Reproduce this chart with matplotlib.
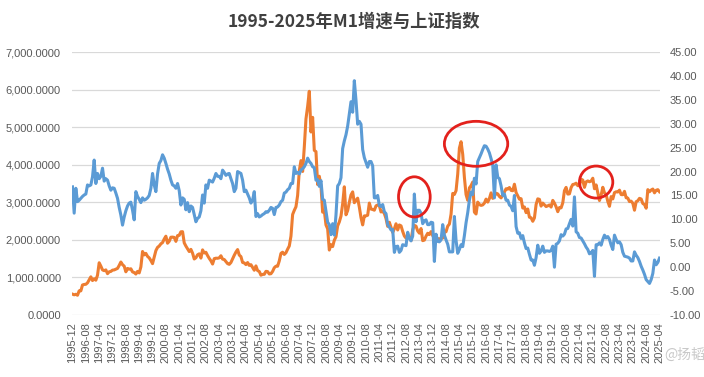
import numpy as np
import pandas as pd
import matplotlib
matplotlib.use("Agg")
import matplotlib.pyplot as plt
from matplotlib.patches import Ellipse
from matplotlib.ticker import FuncFormatter, MultipleLocator

plt.rcParams['font.family'] = ['Liberation Sans', 'Noto Sans CJK SC', 'DejaVu Sans']

# ---------------- data ----------------
months = pd.period_range('1995-12', '2025-04', freq='M').strftime('%Y-%m').tolist()

sse_1995 = [555]
sse_1996 = [537, 551, 526, 643, 643, 799, 813, 817, 856, 938, 1016, 917]
sse_1997 = [965, 926, 1060, 1390, 1300, 1200, 1180, 1200, 1100, 1150, 1160, 1194]
sse_1998 = [1200, 1220, 1240, 1320, 1410, 1340, 1300, 1150, 1240, 1220, 1230, 1147]
sse_1999 = [1130, 1090, 1160, 1120, 1280, 1690, 1600, 1640, 1560, 1520, 1450, 1367]
sse_2000 = [1535, 1714, 1800, 1836, 1894, 1928, 2023, 2097, 1910, 1962, 2070, 2073]
sse_2001 = [2065, 1960, 2113, 2120, 2214, 2218, 1920, 1834, 1763, 1689, 1747, 1646]
sse_2002 = [1491, 1524, 1603, 1628, 1515, 1733, 1650, 1670, 1581, 1507, 1442, 1357]
sse_2003 = [1500, 1512, 1510, 1521, 1577, 1487, 1477, 1421, 1367, 1348, 1397, 1497]
sse_2004 = [1590, 1675, 1742, 1595, 1555, 1399, 1386, 1342, 1396, 1320, 1340, 1266]
sse_2005 = [1191, 1306, 1181, 1159, 1060, 1080, 1083, 1162, 1155, 1092, 1099, 1161]
sse_2006 = [1258, 1299, 1298, 1440, 1641, 1672, 1612, 1658, 1752, 1837, 2099, 2675]
sse_2007 = [2786, 2881, 3183, 3841, 4109, 3820, 4471, 5218, 5552, 5954, 4871, 5261]
sse_2008 = [4383, 4348, 3472, 3693, 3433, 2736, 2775, 2397, 2293, 1729, 1871, 1821]
sse_2009 = [1991, 2082, 2373, 2477, 2633, 2959, 3412, 2667, 2779, 2996, 3195, 3277]
sse_2010 = [2989, 3051, 3110, 2871, 2592, 2398, 2638, 2639, 2656, 2979, 2820, 2808]
sse_2011 = [2790, 2905, 2928, 2911, 2743, 2762, 2701, 2567, 2359, 2468, 2333, 2199]
sse_2012 = [2292, 2428, 2263, 2396, 2373, 2225, 2103, 2047, 2086, 2069, 1980, 2269]
sse_2013 = [2385, 2365, 2237, 2178, 2301, 1979, 1994, 2098, 2175, 2141, 2220, 2116]
sse_2014 = [2033, 2056, 2033, 2026, 2039, 2048, 2202, 2217, 2364, 2420, 2683, 3235]
sse_2015 = [3210, 3310, 3748, 4442, 4612, 4277, 3664, 3206, 3053, 3383, 3445, 3539]
sse_2016 = [2738, 2688, 3004, 2938, 2917, 2930, 2979, 3085, 3005, 3100, 3250, 3104]
sse_2017 = [3159, 3242, 3223, 3155, 3117, 3192, 3273, 3361, 3349, 3393, 3317, 3307]
sse_2018 = [3481, 3259, 3169, 3082, 3095, 2847, 2876, 2725, 2821, 2603, 2588, 2494]
sse_2019 = [2585, 2941, 3091, 3078, 2899, 2979, 2933, 2886, 2905, 2929, 2872, 3050]
sse_2020 = [2977, 2880, 2750, 2860, 2852, 2985, 3310, 3396, 3218, 3225, 3392, 3473]
sse_2021 = [3483, 3509, 3442, 3447, 3615, 3591, 3397, 3544, 3568, 3547, 3564, 3640]
sse_2022 = [3361, 3462, 3252, 3047, 3187, 3399, 3253, 3202, 3024, 2893, 3151, 3089]
sse_2023 = [3256, 3280, 3273, 3323, 3205, 3202, 3291, 3120, 3110, 3018, 3030, 2975]
sse_2024 = [2789, 3015, 3041, 3105, 3087, 2967, 2939, 2842, 3336, 3280, 3326, 3352]
sse_2025 = [3251, 3320, 3336, 3279]

m1_1995 = [16.8]
m1_1996 = [11.3, 16.5, 13.7, 14.0, 14.4, 14.8, 15.1, 15.3, 17.2, 17.0, 17.2, 18.9]
m1_1997 = [22.4, 17.5, 19.6, 18.5, 19.0, 20.7, 18.0, 18.5, 18.2, 17.0, 16.1, 16.6]
m1_1998 = [16.5, 15.5, 14.4, 12.5, 10.9, 8.8, 10.5, 11.8, 12.8, 13.4, 13.6, 11.9]
m1_1999 = [9.9, 15.8, 14.8, 14.2, 13.5, 14.5, 14.0, 14.2, 14.5, 15.0, 16.5, 19.6]
m1_2000 = [17.2, 15.8, 19.5, 21.7, 22.3, 23.5, 22.8, 21.7, 20.5, 19.5, 18.2, 17.2]
m1_2001 = [17.0, 16.5, 17.5, 16.0, 13.0, 14.5, 14.2, 12.0, 13.5, 11.6, 12.8, 12.5]
m1_2002 = [11.0, 9.5, 10.2, 10.5, 11.8, 15.1, 13.4, 17.2, 16.5, 18.2, 18.0, 17.8]
m1_2003 = [18.6, 19.6, 19.0, 19.0, 18.5, 20.3, 19.8, 19.2, 19.5, 19.6, 18.5, 17.5]
m1_2004 = [15.8, 16.5, 20.0, 19.8, 19.6, 18.2, 15.8, 16.1, 15.3, 14.5, 13.4, 14.0]
m1_2005 = [15.8, 10.6, 11.2, 10.5, 10.7, 11.0, 11.2, 11.6, 11.5, 11.9, 12.5, 12.3]
m1_2006 = [11.0, 12.5, 12.6, 13.0, 13.7, 14.0, 15.5, 15.7, 16.2, 16.5, 17.5, 17.5]
m1_2007 = [21.0, 19.6, 19.8, 19.5, 20.3, 20.6, 21.0, 21.7, 22.8, 22.1, 21.7, 21.0]
m1_2008 = [20.8, 18.2, 18.3, 16.9, 18.1, 14.2, 14.0, 11.7, 9.4, 8.9, 6.8, 9.1]
m1_2009 = [6.7, 10.9, 17.0, 17.5, 18.7, 24.8, 26.4, 27.7, 29.5, 32.0, 34.6, 32.4]
m1_2010 = [39.0, 34.9, 29.9, 30.5, 29.9, 24.6, 22.9, 21.9, 20.9, 22.1, 22.1, 21.2]
m1_2011 = [14.5, 14.5, 15.0, 12.9, 12.7, 13.1, 11.6, 11.2, 8.9, 8.4, 7.8, 7.9]
m1_2012 = [3.1, 4.3, 4.4, 3.1, 3.5, 4.7, 4.6, 4.5, 7.3, 6.1, 5.5, 6.5]
m1_2013 = [15.3, 9.5, 11.9, 11.9, 11.3, 9.1, 9.7, 9.9, 8.9, 8.9, 9.4, 9.3]
m1_2014 = [1.2, 6.9, 5.4, 5.3, 5.7, 8.9, 6.7, 5.7, 4.8, 3.2, 3.2, 3.2]
m1_2015 = [10.6, 5.6, 2.9, 3.7, 4.7, 4.3, 6.6, 9.3, 11.4, 14.0, 15.7, 15.2]
m1_2016 = [18.6, 17.4, 22.1, 22.9, 23.7, 24.6, 25.4, 25.3, 24.7, 23.9, 22.7, 21.4]
m1_2017 = [14.5, 21.4, 18.8, 18.5, 17.0, 15.0, 15.3, 14.0, 14.0, 13.0, 12.7, 11.8]
m1_2018 = [15.0, 8.5, 7.1, 7.2, 6.0, 6.6, 5.1, 3.9, 4.0, 2.7, 1.5, 1.5]
m1_2019 = [0.4, 2.0, 4.6, 2.9, 3.4, 4.4, 3.1, 3.4, 3.4, 3.3, 3.5, 4.4]
m1_2020 = [0.0, 4.8, 5.0, 5.5, 6.8, 6.5, 6.9, 8.0, 8.1, 9.1, 10.0, 8.6]
m1_2021 = [14.7, 7.4, 7.1, 6.2, 6.1, 5.5, 4.9, 4.2, 3.7, 2.8, 3.0, 3.5]
m1_2022 = [-1.9, 4.7, 4.7, 5.1, 4.6, 5.8, 6.7, 6.1, 6.4, 5.8, 4.6, 3.7]
m1_2023 = [6.7, 5.8, 5.1, 5.3, 4.7, 3.1, 2.3, 2.2, 2.1, 1.9, 1.3, 1.3]
m1_2024 = [3.2, 2.5, 2.0, 1.2, 0.2, -0.6, -1.5, -2.6, -3.0, -3.4, -2.6, -1.3]
m1_2025 = [1.5, 0.5, 1.0, 1.9]

sse = (sse_1995 + sse_1996 + sse_1997 + sse_1998 + sse_1999 + sse_2000 + sse_2001 +
       sse_2002 + sse_2003 + sse_2004 + sse_2005 + sse_2006 + sse_2007 + sse_2008 +
       sse_2009 + sse_2010 + sse_2011 + sse_2012 + sse_2013 + sse_2014 + sse_2015 +
       sse_2016 + sse_2017 + sse_2018 + sse_2019 + sse_2020 + sse_2021 + sse_2022 +
       sse_2023 + sse_2024 + sse_2025)
m1 = (m1_1995 + m1_1996 + m1_1997 + m1_1998 + m1_1999 + m1_2000 + m1_2001 +
      m1_2002 + m1_2003 + m1_2004 + m1_2005 + m1_2006 + m1_2007 + m1_2008 +
      m1_2009 + m1_2010 + m1_2011 + m1_2012 + m1_2013 + m1_2014 + m1_2015 +
      m1_2016 + m1_2017 + m1_2018 + m1_2019 + m1_2020 + m1_2021 + m1_2022 +
      m1_2023 + m1_2024 + m1_2025)

# highlighted areas: (centre month, centre M1 value, width in months, height in pct points)
highlights = [('2013-01', 14.7, 19, 8.4),
              ('2016-02', 25.8, 38, 9.4),
              ('2022-02', 17.8, 20, 6.7)]

title = '1995-2025年M1增速与上证指数'

# ---------------- plot ----------------
fig = plt.figure(figsize=(7.04, 3.77), dpi=100)
ax = fig.add_axes([72 / 704, 1 - 315 / 377, (660 - 72) / 704, (315 - 52) / 377])
ax2 = ax.twinx()

x = np.arange(len(months))
blue = '#5B9BD5'
orange = '#ED7D31'
grey = '#595959'

ax.plot(x, sse, color=orange, lw=2.2, solid_joinstyle='round')
ax2.plot(x, m1, color=blue, lw=2.2, solid_joinstyle='round')

ax.set_xlim(-0.3, len(months) - 0.7)
ax.set_ylim(0, 7000)
ax.yaxis.set_major_locator(MultipleLocator(1000))
ax.yaxis.set_major_formatter(FuncFormatter(lambda v, p: f'{v:,.4f}'))
ax2.set_ylim(-10, 45)
ax2.yaxis.set_major_locator(MultipleLocator(5))
ax2.yaxis.set_major_formatter(FuncFormatter(lambda v, p: f'{v:.2f}'))

ax.grid(axis='y', color='#D9D9D9', lw=0.9)
ax.set_axisbelow(True)
ax.set_xticks(x[::8])
ax.set_xticklabels(months[::8], rotation=90)

for a in (ax, ax2):
    for s in a.spines.values():
        s.set_visible(False)
ax.tick_params(axis='x', length=0, pad=5, labelsize=8, labelcolor=grey)
ax.tick_params(axis='y', length=0, pad=8, labelsize=8, labelcolor=grey)
ax2.tick_params(axis='y', length=0, pad=7, labelsize=8, labelcolor=grey)

for m, v, w, h in highlights:
    e = Ellipse((months.index(m), v), w, h, fill=False, edgecolor='#E3211C',
                lw=2.0, zorder=10, clip_on=False)
    ax2.add_patch(e)

fig.text(0.503, 1 - 22 / 377, title, ha='center', va='center', fontsize=12.5,
         fontweight='bold', color='#404040',
         family=['Noto Sans CJK SC', 'DejaVu Sans'])
fig.text(0.972, 1 - 355 / 377, '@扬韬', ha='center', va='center', fontsize=10,
         color='#BBBBBB', alpha=0.8, family=['Noto Sans CJK SC', 'DejaVu Sans'])

fig.savefig('out.png', dpi=100, facecolor='white')
